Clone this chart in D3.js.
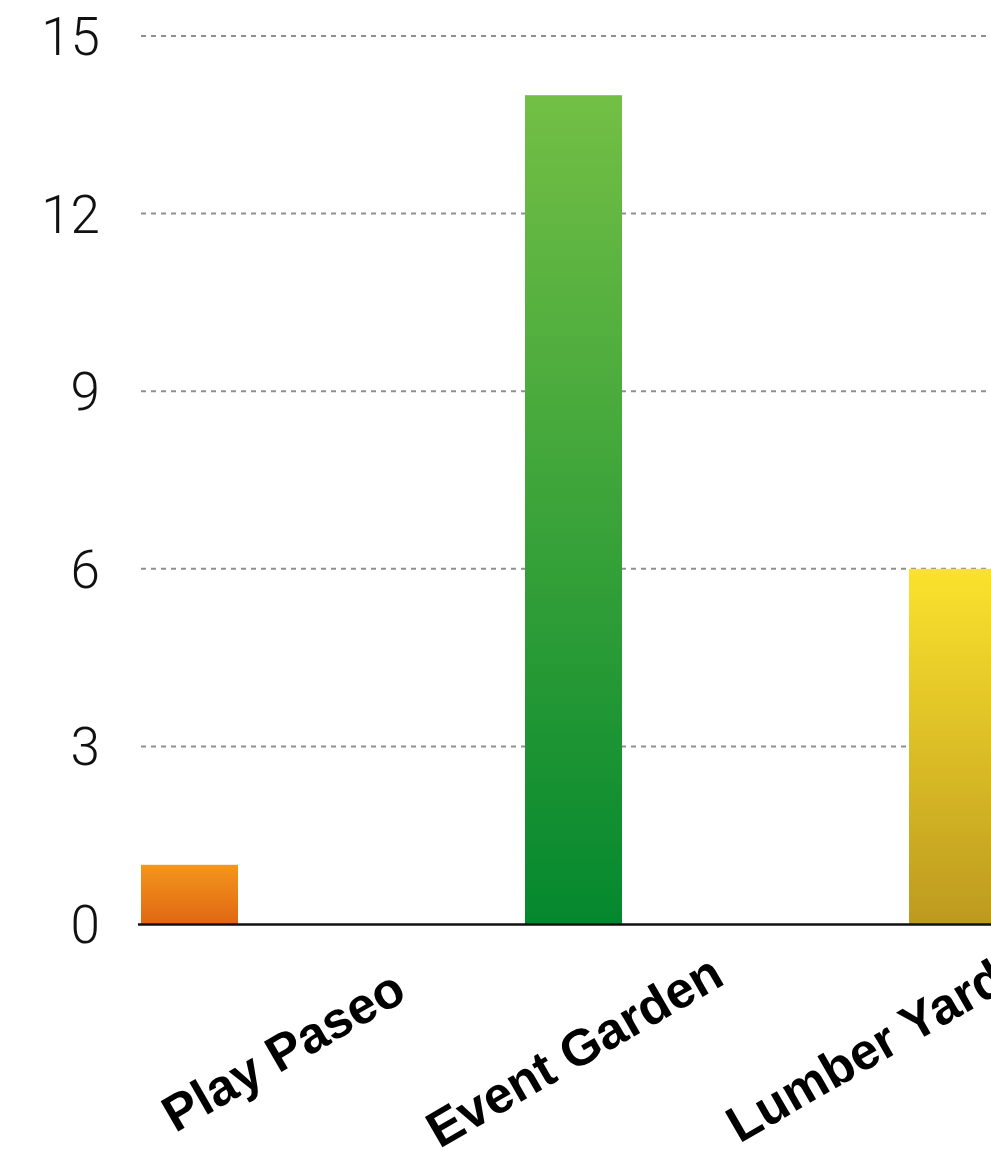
<!DOCTYPE html>
<html>
<head>
<meta charset="utf-8">
<script src="https://cdn.jsdelivr.net/npm/d3@7"></script>
<style>
  html, body { margin: 0; padding: 0; background: #fff; }
  svg { display: block; }
</style>
</head>
<body>
<svg id="chart" width="991" height="1171"></svg>
<script>
// Visitor counts per site
const categories = ["Play Paseo", "Event Garden", "Lumber Yard"];
const values = [1, 14, 6];
const yTicks = [0, 3, 6, 9, 12, 15];
// gradient stops per bar: [top, bottom]
const barColors = [
  ["#f4961c", "#e06713"],
  ["#73bf45", "#04882e"],
  ["#fbe22d", "#bd9a1f"]
];

const svg = d3.select("#chart");
const W = 991, H = 1171;

const y = d3.scaleLinear().domain([0, 15]).range([924, 36]);
const x = d3.scaleBand()
  .domain(categories)
  .range([141, 1006])
  .paddingInner(0.7474)
  .paddingOuter(0)
  .align(0);
const xLabel = d3.scalePoint().domain(categories).range([292, 874]);

// gradients
const defs = svg.append("defs");
categories.forEach((c, i) => {
  const g = defs.append("linearGradient")
    .attr("id", "grad" + i)
    .attr("x1", 0).attr("y1", 0).attr("x2", 0).attr("y2", 1);
  g.append("stop").attr("offset", "0%").attr("stop-color", barColors[i][0]);
  g.append("stop").attr("offset", "100%").attr("stop-color", barColors[i][1]);
});

// dashed grid lines
svg.append("g")
  .selectAll("line")
  .data(yTicks.filter(t => t > 0))
  .join("line")
  .attr("x1", 141).attr("x2", W)
  .attr("y1", d => y(d)).attr("y2", d => y(d))
  .attr("stroke", "#8f8f8f")
  .attr("stroke-width", 2)
  .attr("stroke-dasharray", "5,5");

// y tick labels
svg.append("g")
  .selectAll("text")
  .data(yTicks)
  .join("text")
  .attr("x", 100)
  .attr("y", d => y(d))
  .attr("dy", "0.36em")
  .attr("text-anchor", "end")
  .attr("font-family", "Roboto, 'Liberation Sans', Arial, sans-serif")
  .attr("font-weight", 300)
  .attr("font-size", 53)
  .attr("fill", "#111")
  .text(d => d);

// bars
svg.append("g")
  .selectAll("rect")
  .data(values)
  .join("rect")
  .attr("x", (d, i) => x(categories[i]))
  .attr("width", x.bandwidth())
  .attr("y", d => y(d))
  .attr("height", d => y(0) - y(d))
  .attr("fill", (d, i) => `url(#grad${i})`);

// baseline
svg.append("line")
  .attr("x1", 138).attr("x2", W)
  .attr("y1", y(0) + 0.5).attr("y2", y(0) + 0.5)
  .attr("stroke", "#111")
  .attr("stroke-width", 2.5);

// category labels
svg.append("g")
  .selectAll("text")
  .data(categories)
  .join("text")
  .attr("transform", d => `translate(${xLabel(d)},1066) rotate(-30)`)
  .attr("text-anchor", "middle")
  .attr("font-family", "'Liberation Sans', Arial, sans-serif")
  .attr("font-weight", "bold")
  .attr("font-size", 51)
  .attr("fill", "#000")
  .text(d => d);
</script>
</body>
</html>
